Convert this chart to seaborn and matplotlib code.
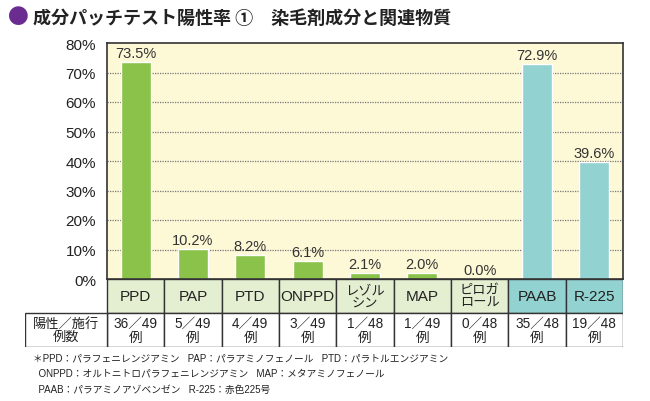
import numpy as np
import pandas as pd
import matplotlib.pyplot as plt
import seaborn as sns
from matplotlib.patches import Rectangle

# data
categories = ['PPD', 'PAP', 'PTD', 'ONPPD', 'レゾル\nシン', 'MAP', 'ピロガ\nロール', 'PAAB', 'R-225']
rates = [73.5, 10.2, 8.2, 6.1, 2.1, 2.0, 0.0, 72.9, 39.6]
groups = ['dye'] * 7 + ['related'] * 2
counts = ['36／49\n例', '5／49\n例', '4／49\n例', '3／49\n例', '1／48\n例',
          '1／49\n例', '0／48\n例', '35／48\n例', '19／48\n例']
yticks = [0, 10, 20, 30, 40, 50, 60, 70, 80]

title = '成分パッチテスト陽性率 ①　染毛剤成分と関連物質'
row_label = '陽性／施行\n例数'
notes = ['＊PPD：パラフェニレンジアミン   PAP：パラアミノフェノール   PTD：パラトルエンジアミン',
         '  ONPPD：オルトニトロパラフェニレンジアミン   MAP：メタアミノフェノール',
         '  PAAB：パラアミノアゾベンゼン   R-225：赤色225号']

bar_colors = {'dye': '#8bc34a', 'related': '#92d2d0'}
cell_colors = {'dye': '#e4efd2', 'related': '#92d2d0'}

df = pd.DataFrame({'cat': categories, 'rate': rates, 'group': groups})

sns.set_theme(style='white')
plt.rcParams['font.family'] = ['Liberation Sans', 'Noto Sans CJK JP', 'DejaVu Sans']
cjk = ['Noto Sans CJK JP', 'DejaVu Sans']

W, H = 650, 402
fig = plt.figure(figsize=(6.5, 4.02), dpi=100)

def fx(px):
    return px / W

def fy(py):
    return 1 - py / H

# main plot area
left, right, top, bottom = 107, 623, 44, 280
ax = fig.add_axes([fx(left), fy(bottom), fx(right - left), (bottom - top) / H])
ax.set_facecolor('#fdf8d6')
sns.barplot(data=df, x='cat', y='rate', hue='group', palette=bar_colors,
            dodge=False, width=0.52, legend=False, ax=ax, saturation=1)
ax.set_xlim(-0.5, len(categories) - 0.5)
ax.set_ylim(0, 80)
ax.set_yticks(yticks)
ax.set_yticklabels([f'{v}%' for v in yticks], fontsize=11, color='#222222')
ax.tick_params(axis='y', length=0, pad=8)
ax.set_xticks([])
ax.set_xlabel('')
ax.set_ylabel('')
for v in yticks[1:-1]:
    ax.axhline(v, color='#777777', linestyle=(0, (1, 1)), linewidth=0.9, zorder=0)
for s in ax.spines.values():
    s.set_color('#333333')
    s.set_linewidth(1.2)
for i, v in enumerate(rates):
    ax.text(i, v + 0.7, f'{v:.1f}%', ha='center', va='bottom', fontsize=10.5, color='#333333')

# table under the axis
col_w = (right - left) / len(categories)
tleft = 25
tax = fig.add_axes([fx(tleft), fy(348), fx(right - tleft), (348 - bottom) / H])
tax.set_xlim(-0.5 - (left - tleft) / col_w, len(categories) - 0.5)
tax.set_ylim(0, 2)
tax.axis('off')
for i, (c, n, g) in enumerate(zip(categories, counts, groups)):
    tax.add_patch(Rectangle((i - 0.5, 1), 1, 1, facecolor=cell_colors[g],
                            edgecolor='#333333', linewidth=1))
    tax.add_patch(Rectangle((i - 0.5, 0), 1, 1, facecolor='white',
                            edgecolor='#333333', linewidth=1))
    if '\n' in c:
        tax.text(i, 1.5, c, ha='center', va='center', fontsize=9.5, color='#222222',
                 linespacing=0.95, family=cjk)
    else:
        tax.text(i, 1.5, c, ha='center', va='center', fontsize=11, color='#222222')
    tax.text(i, 0.5, n, ha='center', va='center', fontsize=9.8, color='#222222', linespacing=1.0)
x0 = -0.5 - (left - tleft) / col_w
tax.add_patch(Rectangle((x0, 0), -0.5 - x0, 1, facecolor='white',
                        edgecolor='#333333', linewidth=1))
tax.text((x0 - 0.5) / 2, 0.5, row_label, ha='center', va='center', fontsize=9.5,
         color='#222222', linespacing=1.0, family=cjk)

# title
fig.text(fx(18), fy(18), '●', color='#6a2c91', fontsize=15, ha='center', va='center', family=cjk)
fig.text(fx(33), fy(18), title, fontsize=13, fontweight='bold', ha='left', va='center',
         color='#222222', family=cjk)

# footnotes
for k, line in enumerate(notes):
    fig.text(fx(33), fy(358 + k * 16), line, fontsize=7, ha='left', va='center',
             color='#222222')

fig.savefig('out.png', dpi=100)
